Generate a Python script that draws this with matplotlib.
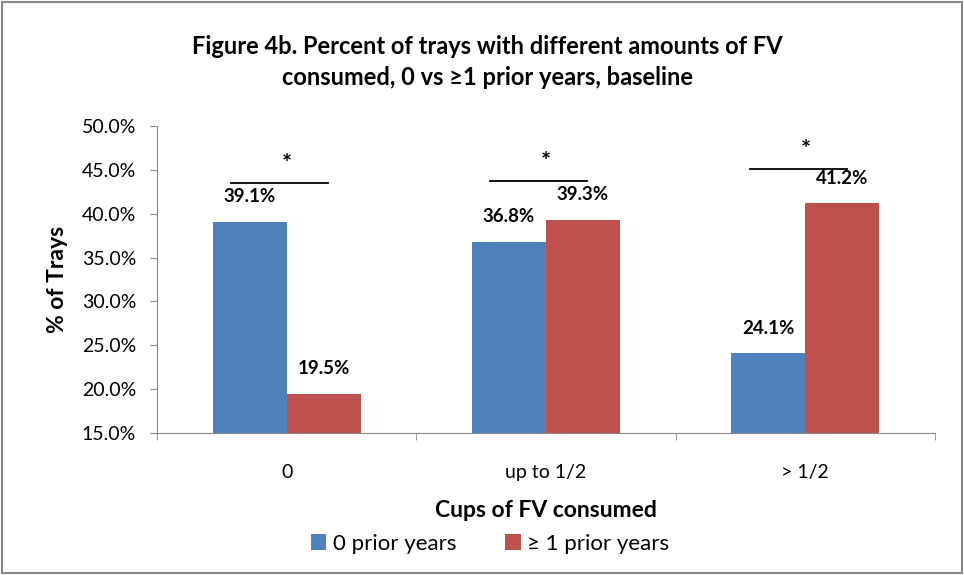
import numpy as np
import matplotlib.pyplot as plt
from matplotlib.patches import Rectangle

plt.rcParams['font.family'] = ['Lato', 'DejaVu Sans']

categories = ['0', 'up to 1/2', '> 1/2']
zero_prior = [39.1, 36.8, 24.1]
one_plus_prior = [19.5, 39.3, 41.2]
sig_line_y = [43.5, 43.7, 45.1]
series_names = ['0 prior years', '\u2265 1 prior years']

blue = '#4F81BD'
red = '#C0504D'

fig = plt.figure(figsize=(9.64, 5.75), dpi=100)
ax = fig.add_axes([157/964, 1 - 433/575, 778/964, 307/575])

x = np.arange(len(categories))
w = 0.285
b1 = ax.bar(x - w/2, np.array(zero_prior) - 15, w, bottom=15, color=blue, label=series_names[0])
b2 = ax.bar(x + w/2, np.array(one_plus_prior) - 15, w, bottom=15, color=red, label=series_names[1])

for xi, v in zip(x - w/2, zero_prior):
    ax.text(xi, v + 1.9, f'{v:.1f}%', ha='center', va='bottom', fontsize=13.5, fontweight='bold')
for xi, v in zip(x + w/2, one_plus_prior):
    ax.text(xi, v + 1.9, f'{v:.1f}%', ha='center', va='bottom', fontsize=13.5, fontweight='bold')

# significance markers
for xi, y in zip(x, sig_line_y):
    ax.plot([xi - 0.215, xi + 0.16], [y, y], color='black', lw=1.3, clip_on=False)
    ax.text(xi, y + 0.8, '*', ha='center', va='bottom', fontsize=17, fontweight='bold')

ax.set_xlim(-0.5, 2.5)
ax.set_ylim(15, 50)
ax.set_yticks(np.arange(15, 50.1, 5))
ax.set_yticklabels([f'{t:.1f}%' for t in np.arange(15, 50.1, 5)], fontsize=14)
ax.set_xticks(x)
ax.set_xticklabels(categories, fontsize=14)
ax.set_xticks([-0.5, 0.5, 1.5, 2.5], minor=True)
ax.tick_params(axis='x', which='major', length=0, pad=22)
ax.tick_params(axis='x', which='minor', length=5, color='#888888')
ax.tick_params(axis='y', length=5, color='#888888', pad=10)

for s in ['top', 'right']:
    ax.spines[s].set_visible(False)
for s in ['left', 'bottom']:
    ax.spines[s].set_color('#888888')

ax.set_ylabel('% of Trays', fontsize=16.5, fontweight='bold', labelpad=10)
ax.set_xlabel('Cups of FV consumed', fontsize=16.5, fontweight='bold', labelpad=14)

fig.text(0.506, 1 - 62/575, 'Figure 4b. Percent of trays with different amounts of FV\nconsumed, 0 vs \u22651 prior years, baseline',
         ha='center', va='center', fontsize=17, fontweight='bold', linespacing=1.45)

fig.legend(handles=[b1, b2], labels=series_names, loc='center', bbox_to_anchor=(490/964, 1 - 544/575),
           ncol=2, frameon=False, fontsize=16, handlelength=0.7, handleheight=0.7,
           handletextpad=0.3, columnspacing=2.2)

fig.patches.append(Rectangle((0.002, 0.003), 0.996, 0.994, transform=fig.transFigure,
                             fill=False, edgecolor='#888888', lw=1.5))

fig.savefig('out.png', dpi=100)
